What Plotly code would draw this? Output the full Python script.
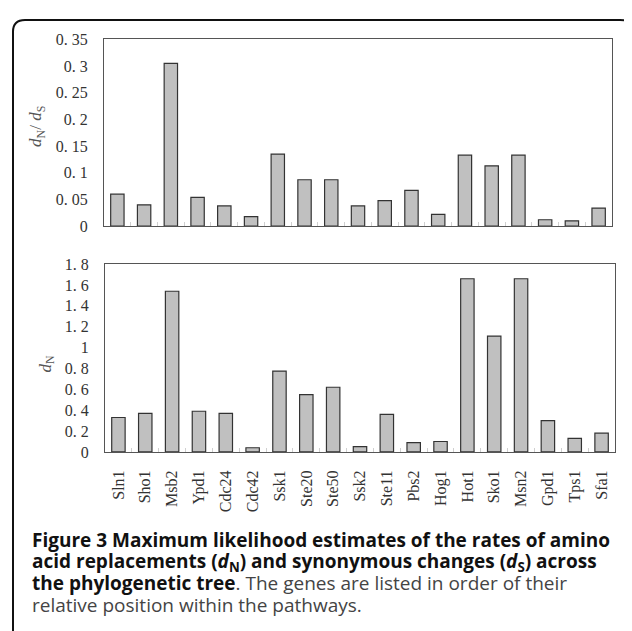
import plotly.graph_objects as go

W, H = 632, 631
OFF = 8  # page body margin shift

genes = ["Sln1", "Sho1", "Msb2", "Ypd1", "Cdc24", "Cdc42", "Ssk1", "Ste20", "Ste50", "Ssk2",
         "Ste11", "Pbs2", "Hog1", "Hot1", "Sko1", "Msn2", "Gpd1", "Tps1", "Sfa1"]
dn_ds = [0.060, 0.040, 0.305, 0.054, 0.038, 0.018, 0.135, 0.087, 0.087, 0.038,
         0.048, 0.067, 0.022, 0.133, 0.113, 0.133, 0.012, 0.010, 0.034]
dn = [0.33, 0.37, 1.54, 0.39, 0.37, 0.04, 0.775, 0.55, 0.62, 0.05,
      0.36, 0.09, 0.10, 1.66, 1.11, 1.66, 0.30, 0.13, 0.18]

top_tickvals = [0, 0.05, 0.1, 0.15, 0.2, 0.25, 0.3, 0.35]
top_ticktext = ["0", "0. 05", "0. 1", "0. 15", "0. 2", "0. 25", "0. 3", "0. 35"]
bot_tickvals = [0, 0.2, 0.4, 0.6, 0.8, 1.0, 1.2, 1.4, 1.6, 1.8]
bot_ticktext = ["0", "0. 2", "0. 4", "0. 6", "0. 8", "1", "1. 2", "1. 4", "1. 6", "1. 8"]


def px(x):
    return (x - OFF) / W


def py(y):
    return 1 - (y - OFF) / H


bar_style = dict(marker=dict(color="#c0c0c0", line=dict(color="#333333", width=1.2)),
                 showlegend=False, hoverinfo="skip")

fig = go.Figure()
fig.add_trace(go.Bar(x=genes, y=dn_ds, xaxis="x", yaxis="y", **bar_style))
fig.add_trace(go.Bar(x=genes, y=dn, xaxis="x2", yaxis="y2", **bar_style))

serif = "Liberation Serif, DejaVu Serif, serif"

common_x = dict(type="category", showline=True, mirror=True, linecolor="#555555", linewidth=1.2,
                ticks="inside", tickson="boundaries", ticklen=4, tickcolor="#d0d0d0",
                showgrid=False, zeroline=False, fixedrange=True)
common_y = dict(showline=True, mirror=True, linecolor="#555555", linewidth=1.2,
                ticks="", showgrid=False, zeroline=False,
                tickfont=dict(family=serif, size=16, color="#333333"),
                ticklabelstandoff=12)

fig.update_layout(
    width=W, height=H,
    margin=dict(l=0, r=0, t=0, b=0),
    paper_bgcolor="white", plot_bgcolor="white",
    bargap=0.5,
    xaxis=dict(domain=[px(104), px(612)], anchor="y", showticklabels=False, **common_x),
    yaxis=dict(domain=[py(224), py(32)], anchor="x", range=[0, 0.35],
               tickvals=top_tickvals, ticktext=top_ticktext, **common_y),
    xaxis2=dict(domain=[px(105), px(615)], anchor="y2", showticklabels=True, tickangle=-90,
                tickfont=dict(family=serif, size=16, color="#333333"),
                ticklabelstandoff=11, **common_x),
    yaxis2=dict(domain=[py(456), py(263)], anchor="x2", range=[0, 1.8],
                tickvals=bot_tickvals, ticktext=bot_ticktext, **common_y),
)

# y-axis titles
fig.add_annotation(x=px(37), y=py(122), xref="paper", yref="paper", showarrow=False,
                   xanchor="center", yanchor="middle",
                   text="<i>d</i><sub>N</sub>/ <i>d</i><sub>S</sub>", textangle=-90,
                   font=dict(family=serif, size=17, color="#555555"))
fig.add_annotation(x=px(47), y=py(365), xref="paper", yref="paper", showarrow=False,
                   xanchor="center", yanchor="middle",
                   text="<i>d</i><sub>N</sub>", textangle=-90,
                   font=dict(family=serif, size=17, color="#555555"))

# caption
cap_font = dict(family="Open Sans, Noto Sans, sans-serif", size=19, color="#111111")
caption_lines = [
    (547, "<b>Figure 3 Maximum likelihood estimates of the rates of amino</b>"),
    (569, "<b>acid replacements (<i>d</i><sub>N</sub>) and synonymous changes (<i>d</i><sub>S</sub>) across</b>"),
    (591, "<b>the phylogenetic tree</b><span style='color:#444444'>. The genes are listed in order of their</span>"),
    (613, "<span style='color:#444444'>relative position within the pathways.</span>"),
]
for yy, t in caption_lines:
    fig.add_annotation(x=px(30), y=py(yy), xref="paper", yref="paper", showarrow=False,
                       xanchor="left", yanchor="middle", align="left", text=t, font=cap_font)

# rounded frame
path = (f"M {px(13)},{py(650)} L {px(13)},{py(24)} Q {px(13)},{py(12)} {px(25)},{py(12)} "
        f"L {px(620)},{py(12)} Q {px(632)},{py(12)} {px(632)},{py(24)} L {px(632)},{py(650)}")
fig.add_shape(type="path", path=path, xref="paper", yref="paper",
              line=dict(color="#111111", width=2))

fig.write_html("out.html")
